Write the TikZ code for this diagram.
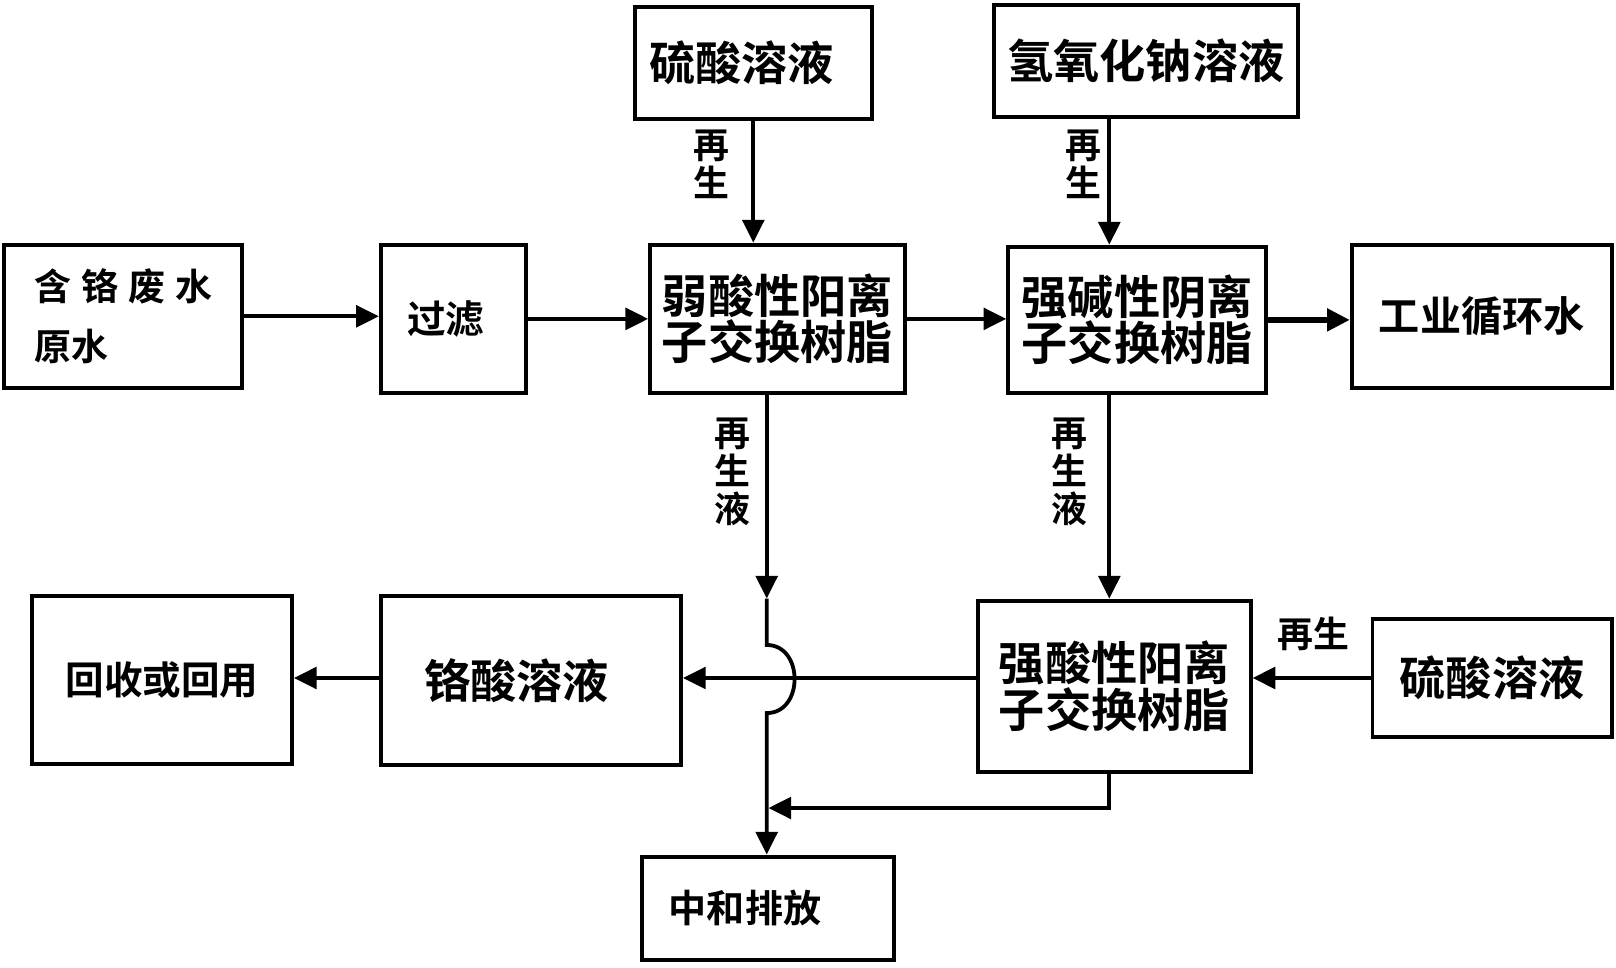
\documentclass[tikz,border=0pt]{standalone}
\usepackage{fontspec}
\setmainfont{Noto Sans CJK SC}[BoldFont={Noto Sans CJK SC Bold}]
\usetikzlibrary{arrows.meta}
\begin{document}
\begin{tikzpicture}[x=0.02cm,y=-0.02cm,
  box/.style={draw,line width=2.2pt,inner sep=0pt,align=center,font=\bfseries\fontsize{25.5}{24}\selectfont},
  lab/.style={inner sep=0pt,align=center,font=\bfseries\fontsize{19.8}{21}\selectfont},
  arr/.style={line width=2.1pt,-{Triangle[length=0.44cm,width=0.42cm]}},
  ln/.style={line width=2.1pt}]
\useasboundingbox (0,0) rectangle (1566,938);
% boxes
\node[box,minimum width=4.62cm,minimum height=2.78cm,align=left,font=\bfseries\fontsize{20.4}{33}\selectfont] (src) at (119.5,306.5)
  {含\hspace{0.19cm}铬\hspace{0.19cm}废\hspace{0.19cm}水\\原水};
\node[box,minimum width=2.82cm,minimum height=2.88cm,font=\bfseries\fontsize{21.3}{24}\selectfont] (filt) at (439.5,309) {过滤\hspace*{0.3cm}};
\node[box,minimum width=4.60cm,minimum height=2.16cm] (h2so4a) at (730,61) {硫酸溶液\hspace*{0.45cm}};
\node[box,minimum width=4.94cm,minimum height=2.88cm] (wac) at (753.5,309) {弱酸性阳离\\子交换树脂};
\node[box,minimum width=5.90cm,minimum height=2.16cm] (naoh) at (1110.5,59) {氢氧化钠溶液};
\node[box,minimum width=5.00cm,minimum height=2.84cm,font=\bfseries\fontsize{25.5}{22.7}\selectfont] (sba) at (1102,310) {强碱性阴离\\子交换树脂};
\node[box,minimum width=5.04cm,minimum height=2.78cm,font=\bfseries\fontsize{22.7}{24}\selectfont] (icw) at (1436,306.5) {工业循环水};
\node[box,minimum width=5.28cm,minimum height=3.32cm,font=\bfseries\fontsize{25.5}{22.7}\selectfont] (sac) at (1080,665) {强酸性阳离\\子交换树脂};
\node[box,minimum width=4.64cm,minimum height=2.28cm] (h2so4b) at (1446,657) {硫酸溶液};
\node[box,minimum width=5.82cm,minimum height=3.26cm] (cra) at (514.5,659.5) {铬酸溶液\hspace*{0.56cm}};
\node[box,minimum width=5.04cm,minimum height=3.24cm,font=\bfseries\fontsize{21.3}{24}\selectfont] (rec) at (157,659) {回收或回用};
\node[box,minimum width=4.88cm,minimum height=2.00cm,font=\bfseries\fontsize{21}{24}\selectfont] (neu) at (744,880) {中和排放\hspace*{0.88cm}};
% labels
\node[lab] (l1) at (689,159) {再\\生};
\node[lab] (l2) at (1050,159) {再\\生};
\node[lab] (l3) at (709.5,457) {再\\生\\液};
\node[lab] (l4) at (1036,457) {再\\生\\液};
\node[lab] (l5) at (1273,614) {再生};
% helper coordinates
\coordinate (xL) at (743,0);
\coordinate (xR) at (1075,0);
\coordinate (yM) at (0,657);
\coordinate (yJ) at (0,783);
\coordinate (m) at (743,580);
\coordinate (h1) at (743,625);
\coordinate (h2) at (743,691);
% connectors
\draw[arr] (src.east) -- (src.east -| filt.west);
\draw[arr] (filt.east) -- (filt.east -| wac.west);
\draw[arr] (wac.east) -- (wac.east -| sba.west);
\draw[arr,line width=3.5pt] (sba.east) -- (sba.east -| icw.west);
\draw[arr] (h2so4a.south) -- (h2so4a.south |- wac.north);
\draw[arr] (naoh.south -| xR) -- (sba.north -| xR);
\draw[arr] (sba.south -| xR) -- (sac.north -| xR);
\draw[arr] (h2so4b.west |- yM) -- (sac.east |- yM);
\draw[arr] (sac.west |- yM) -- (cra.east |- yM);
\draw[arr] (cra.west |- yM) -- (rec.east |- yM);
\draw[arr] (sac.south -| xR) -- (xR |- yJ) -- ([xshift=1pt]xL |- yJ);
\draw[arr] (wac.south -| xL) -- (m);
\draw[arr] (m) -- (h1) .. controls (779,625) and (779,691) .. (h2) -- (neu.north -| xL);
\end{tikzpicture}
\end{document}
